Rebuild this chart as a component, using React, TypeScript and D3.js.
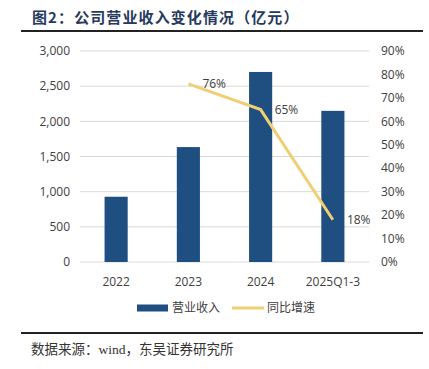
import React from 'react';
import { scaleBand, scaleLinear, line, format } from 'd3';

const categories = ['2022', '2023', '2024', '2025Q1-3'];
const revenue = [928, 1634, 2702, 2149];
const growth: (number | null)[] = [null, 0.76, 0.65, 0.18];
const leftTicks = [0, 500, 1000, 1500, 2000, 2500, 3000];
const rightTicks = [0, 0.1, 0.2, 0.3, 0.4, 0.5, 0.6, 0.7, 0.8, 0.9];

const W = 429;
const H = 369;
const plot = { left: 80, right: 369, top: 51, bottom: 262 };

const App = () => {
  // Scales
  const x = scaleBand().domain(categories).range([plot.left, plot.right]).paddingInner(0.68).paddingOuter(0.34);
  const y = scaleLinear().domain([0, 3000]).range([plot.bottom, plot.top]);
  const y2 = scaleLinear().domain([0, 0.9]).range([plot.bottom, plot.top]);

  const pts = categories
    .map((c, i) => ({ c, v: growth[i] }))
    .filter((d) => d.v !== null) as { c: string; v: number }[];
  const path = line<{ c: string; v: number }>()
    .x((d) => (x(d.c) as number) + x.bandwidth() / 2)
    .y((d) => y2(d.v))(pts);

  const tickFont = '"Open Sans", "Noto Sans", sans-serif';
  const cjk = '"Noto Sans CJK SC", sans-serif';

  return (
    <svg width={W} height={H} style={{ position: 'absolute', left: 0, top: 0 }}>
      <rect width={W} height={H} fill="#fff" />
      <text x={32} y={23} fontFamily={cjk} fontWeight="bold" fontSize={15} letterSpacing={1.1} fill="#253a5c">
        图2：公司营业收入变化情况（亿元）
      </text>
      <line x1={21} x2={423} y1={31} y2={31} stroke="#222" strokeWidth={2} />

      {leftTicks.map((t) => (
        <line key={t} x1={plot.left} x2={plot.right} y1={y(t)} y2={y(t)} stroke="#d9d9d9" strokeWidth={1} />
      ))}
      {leftTicks.map((t) => (
        <text key={t} x={70} y={y(t)} dy="0.35em" textAnchor="end" fontFamily={tickFont} fontSize={12} fill="#404040">
          {format(',')(t)}
        </text>
      ))}
      {rightTicks.map((t) => (
        <text key={t} x={381} y={y2(t)} dy="0.35em" fontFamily={tickFont} fontSize={12} fill="#404040">
          {format('.0%')(t)}
        </text>
      ))}

      {categories.map((c, i) => (
        <rect
          key={c}
          x={x(c)}
          y={y(revenue[i])}
          width={x.bandwidth()}
          height={plot.bottom - y(revenue[i])}
          fill="#1f4e80"
        />
      ))}
      {categories.map((c) => (
        <text
          key={c}
          x={(x(c) as number) + x.bandwidth() / 2}
          y={282}
          dy="0.35em"
          textAnchor="middle"
          fontFamily={tickFont}
          fontSize={12}
          fill="#404040"
        >
          {c}
        </text>
      ))}

      <path d={path || ''} fill="none" stroke="#f0cf74" strokeWidth={3} />
      {pts.map((d) => (
        <text
          key={d.c}
          x={(x(d.c) as number) + x.bandwidth() / 2 + 14}
          y={y2(d.v)}
          dy="0.35em"
          fontFamily={tickFont}
          fontSize={12}
          fill="#404040"
        >
          {format('.0%')(d.v)}
        </text>
      ))}

      {/* legend */}
      <rect x={137} y={304.5} width={31} height={7} fill="#1f4e80" />
      <text x={172} y={308} dy="0.35em" fontFamily={cjk} fontSize={12} fill="#404040">营业收入</text>
      <line x1={232} x2={264} y1={308} y2={308} stroke="#f0cf74" strokeWidth={3} />
      <text x={267} y={308} dy="0.35em" fontFamily={cjk} fontSize={12} fill="#404040">同比增速</text>

      <line x1={21} x2={423} y1={333} y2={333} stroke="#222" strokeWidth={2} />
      <text x={31} y={354} fontFamily={'"Liberation Serif", "Noto Sans CJK SC", serif'} fontSize={13.5} fill="#333">
        数据来源：wind，东吴证券研究所
      </text>
    </svg>
  );
};

export default App;
